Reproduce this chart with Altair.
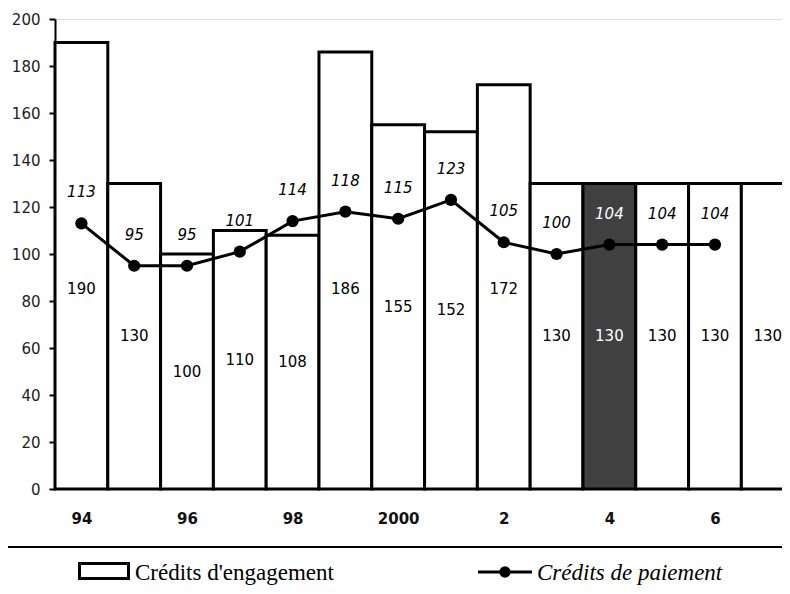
import altair as alt
import pandas as pd

# ---- data ----
years = [1994, 1995, 1996, 1997, 1998, 1999, 2000, 2001, 2002, 2003, 2004, 2005, 2006, 2007]
engagement = [190, 130, 100, 110, 108, 186, 155, 152, 172, 130, 130, 130, 130, 130]
pay_years = [1994, 1995, 1996, 1997, 1998, 1999, 2000, 2001, 2002, 2003, 2004, 2005, 2006]
paiement = [113, 95, 95, 101, 114, 118, 115, 123, 105, 100, 104, 104, 104]
x_tick_values = [1994, 1996, 1998, 2000, 2002, 2004, 2006]
x_tick_labels = ["94", "96", "98", "2000", "2", "4", "6"]
y_tick_values = [0, 20, 40, 60, 80, 100, 120, 140, 160, 180, 200]
highlight_year = 2004
legend_labels = ["Crédits d'engagement", "Crédits de paiement"]

bars_df = pd.DataFrame({"year": years, "value": engagement})
line_df = pd.DataFrame({"year": pay_years, "value": paiement})
one = pd.DataFrame({"k": [0]})

NUM_FONT = "DejaVu Sans"
SERIF = "Liberation Serif"

label_expr = "[{}][indexof([{}], datum.value)]".format(
    ",".join("'" + s + "'" for s in x_tick_labels),
    ",".join(str(v) for v in x_tick_values),
)

xscale = alt.Scale(domain=[1993.5, 2007.27], nice=False, zero=False)
yscale = alt.Scale(domain=[0, 200], nice=False)

x_axis = alt.Axis(values=x_tick_values, labelExpr=label_expr, title=None, grid=False,
                  domain=False, ticks=False, tickSize=0, labelPadding=29,
                  labelBaseline="middle", labelFont=NUM_FONT, labelFontSize=15,
                  labelFontWeight="bold", labelColor="#111", labelFlush=False)
y_axis = alt.Axis(values=y_tick_values, title=None, grid=False, domainColor="black",
                  domainWidth=2, tickColor="black", tickWidth=2, tickSize=6,
                  labelPadding=9, labelFont=NUM_FONT, labelFontSize=15,
                  labelColor="#222")


def X(field):
    return alt.X(field, type="quantitative", scale=xscale, axis=x_axis)


def Y(field):
    return alt.Y(field, type="quantitative", scale=yscale, axis=y_axis)


is_hi = alt.datum.year == highlight_year

bars = alt.Chart(bars_df).transform_calculate(
    x0="datum.year - 0.5", x1="datum.year + 0.5"
).mark_rect(stroke="black", strokeWidth=3).encode(
    x=X("x0"),
    x2="x1:Q",
    y=Y("value"),
    y2=alt.datum(0),
    fill=alt.condition(is_hi, alt.value("#404040"), alt.value("white")),
)

bar_labels = alt.Chart(bars_df).transform_calculate(
    lab="min(datum.value / 2, 85)"
).mark_text(font=NUM_FONT, fontSize=15, baseline="middle").encode(
    x=X("year"),
    y=Y("lab"),
    text="value:Q",
    color=alt.condition(is_hi, alt.value("white"), alt.value("black")),
)

line = alt.Chart(line_df).mark_line(color="black", strokeWidth=3).encode(
    x=X("year"), y=Y("value"),
)
points = alt.Chart(line_df).mark_circle(color="black", size=150, opacity=1).encode(
    x=X("year"), y=Y("value"),
)
line_labels = alt.Chart(line_df).mark_text(
    font=NUM_FONT, fontSize=15, fontStyle="italic", baseline="middle", dy=-31
).encode(
    x=X("year"), y=Y("value"),
    text="value:Q",
    color=alt.condition(is_hi, alt.value("white"), alt.value("black")),
)

# ---- legend (drawn below the plot) ----
leg_box = alt.Chart(one).mark_rect(fillOpacity=0, stroke="black", strokeWidth=2).encode(
    x=alt.value(-49), x2=alt.value(800), y=alt.value(528), y2=alt.value(660)
)
leg_rect = alt.Chart(one).mark_rect(fill="white", stroke="black", strokeWidth=3).encode(
    x=alt.value(24.5), x2=alt.value(73.5), y=alt.value(544.5), y2=alt.value(559.5)
)
leg_text1 = alt.Chart(one).mark_text(
    text=legend_labels[0], font=SERIF, fontSize=23, align="left", baseline="alphabetic",
    color="black"
).encode(x=alt.value(80), y=alt.value(561))
leg_line = alt.Chart(one).mark_rule(color="black", strokeWidth=3).encode(
    x=alt.value(423), x2=alt.value(477), y=alt.value(553)
)
leg_dot = alt.Chart(one).mark_circle(color="black", size=130, opacity=1).encode(
    x=alt.value(450), y=alt.value(553)
)
leg_text2 = alt.Chart(one).mark_text(
    text=legend_labels[1], font=SERIF, fontSize=23, fontStyle="italic", align="left",
    baseline="alphabetic", color="black"
).encode(x=alt.value(482), y=alt.value(561))

chart = alt.layer(
    bars, line, points, bar_labels, line_labels,
    leg_box, leg_rect, leg_text1, leg_line, leg_dot, leg_text2
).properties(
    width=727, height=470,
    autosize=alt.AutoSizeParams(type="none"),
    padding={"left": 47, "top": 11, "right": 0, "bottom": 106},
).configure_view(strokeWidth=0, strokeOpacity=0).configure(background="white")

chart.save("out.html", embed_options={"renderer": "svg", "actions": False})
